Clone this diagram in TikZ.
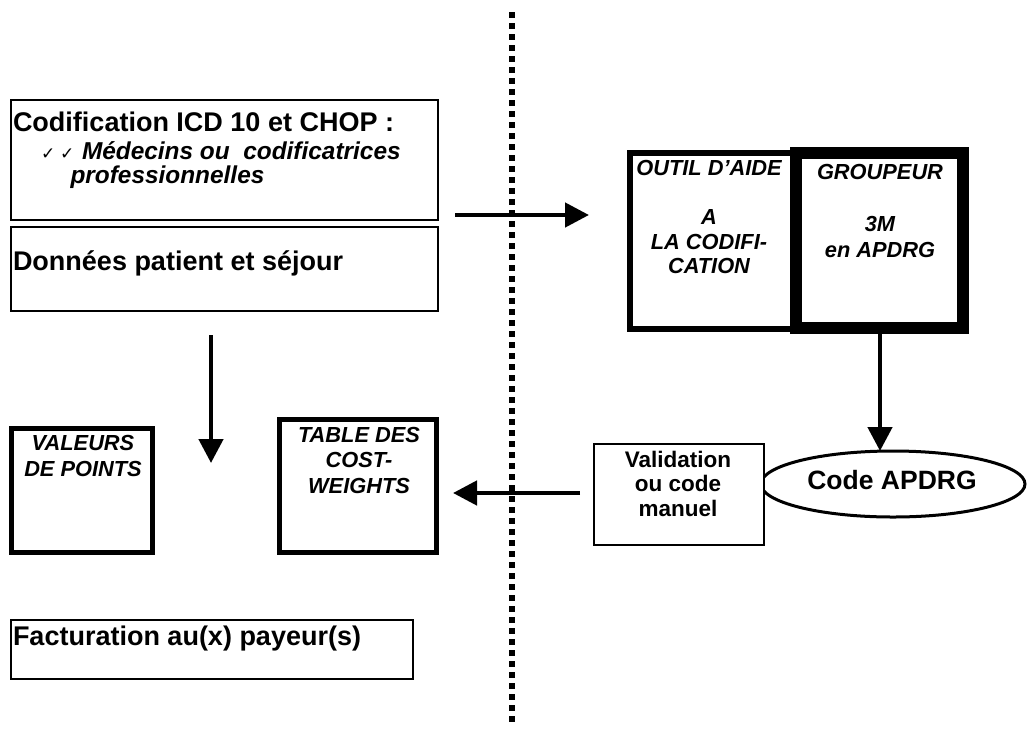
\documentclass[tikz,border=0pt]{standalone}
\usepackage{fontspec}
\usetikzlibrary{arrows.meta,shapes.geometric}
\newfontfamily\diagfont{Liberation Sans}
\newfontfamily\checkfont{DejaVu Sans}
\newcommand\txtsize[2]{\fontsize{#1}{#2}\selectfont}
\newcommand\ctrlines[1]{\begin{tabular}[t]{@{}c@{}}#1\end{tabular}}
\newcommand\leftlines[1]{\begin{tabular}[t]{@{}l@{}}#1\end{tabular}}

\begin{document}
\begin{tikzpicture}[x=1pt,y=-1pt,
  frame/.style={draw=black, fill=white, inner sep=0pt, outer sep=0pt, anchor=north west},
  thinframe/.style={frame, line width=1.8pt},
  boldframe/.style={frame, line width=4.8pt},
  lbl/.style={inner sep=0pt, outer sep=0pt, anchor=base, text=black},
  lblleft/.style={lbl, anchor=base west},
  bigtxt/.style={font=\diagfont\bfseries\txtsize{27}{30}},
  boxtxt/.style={font=\diagfont\bfseries\itshape\txtsize{21.8}{#1}},
  conn/.style={draw=black, line width=4.6pt, -{Triangle[length=24pt,width=24pt]}},
  divider/.style={draw=black, line width=6pt, dash pattern=on 6pt off 5pt}
]
\useasboundingbox (0,0) rectangle (1031,729);

% separation between hospital side and grouping side
\coordinate (divtop) at (512,12);
\coordinate (divbot) at (512,724);
\draw[divider] (divtop) -- (divbot);

% ---------- left column: coding and patient data ----------
\node[thinframe, minimum width=427pt, minimum height=120pt] (codifbox) at (11,100) {};
\node[lblleft, bigtxt] (codif) at (13,131) {Codification ICD 10 et CHOP :};
\node[lblleft, font=\diagfont\bfseries\itshape\txtsize{24.4}{23}] (medecins) at (41,159)
  {\leftlines{\makebox[41pt][l]{\checkfont\mdseries\upshape\txtsize{17}{18}✓\hspace{5pt}✓}Médecins ou\ \ codificatrices\\
   \hspace*{29.5pt}professionnelles}};

\node[thinframe, minimum width=427pt, minimum height=84pt] (databox) at (11,227) {};
\node[lblleft, bigtxt] (data) at (13,270) {Données patient et séjour};

% ---------- grouping tool ----------
\node[frame, line width=6pt, minimum width=166pt, minimum height=176pt] (outil) at (630,153) {};
\node[frame, line width=11.5pt, minimum width=167pt, minimum height=175pt] (groupeur) at (796,153) {};
\node[lbl, boxtxt=24.7] (outiltxt) at (709,175)
  {\ctrlines{OUTIL D’AIDE\\ \\A\\LA CODIFI-\\CATION}};
\node[lbl, boxtxt=26] (groupeurtxt) at (880,179)
  {\ctrlines{GROUPEUR\\ \\3M\\en APDRG}};

% ---------- result code ----------
\node[draw=black, line width=3pt, ellipse, fill=white, inner sep=0pt,
      minimum width=264pt, minimum height=66pt] (code) at (893,484) {};
\node[lbl, font=\diagfont\bfseries\txtsize{26.5}{30}] (codetxt) at (892,489) {Code APDRG};

\node[frame, line width=1.6pt, minimum width=170pt, minimum height=101pt] (valid) at (594,444) {};
\node[lbl, font=\diagfont\bfseries\txtsize{22.5}{24.7}] (validtxt) at (678,467)
  {\ctrlines{Validation\\ou code\\manuel}};

% ---------- tables ----------
\node[boldframe, minimum width=141pt, minimum height=124pt] (valeurs) at (11.5,428.5) {};
\node[lbl, boxtxt=26] (valeurstxt) at (83,450) {\ctrlines{VALEURS\\DE POINTS}};

\node[boldframe, minimum width=157pt, minimum height=133pt] (table) at (279.5,419.5) {};
\node[lbl, boxtxt=25.5] (tabletxt) at (359,442) {\ctrlines{TABLE DES\\COST-\\WEIGHTS}};

% ---------- billing ----------
\node[frame, line width=2pt, minimum width=402pt, minimum height=59pt] (factu) at (10.5,620) {};
\node[lblleft, bigtxt] (factutxt) at (13,645) {Facturation au(x) payeur(s)};

% ---------- connectors ----------
\coordinate (toolin)  at (455,215);
\coordinate (tooltip) at (589,215);
\draw[conn] (toolin) -- (tooltip);

\draw[conn] (groupeur.south -| 880,0) -- (880,451);

\coordinate (backfrom) at (580,493);
\coordinate (backto)   at (453,493);
\draw[conn] (backfrom) -- (backto);

\coordinate (downfrom) at (211,335);
\coordinate (downto)   at (211,463);
\draw[conn] (downfrom) -- (downto);
\end{tikzpicture}
\end{document}
